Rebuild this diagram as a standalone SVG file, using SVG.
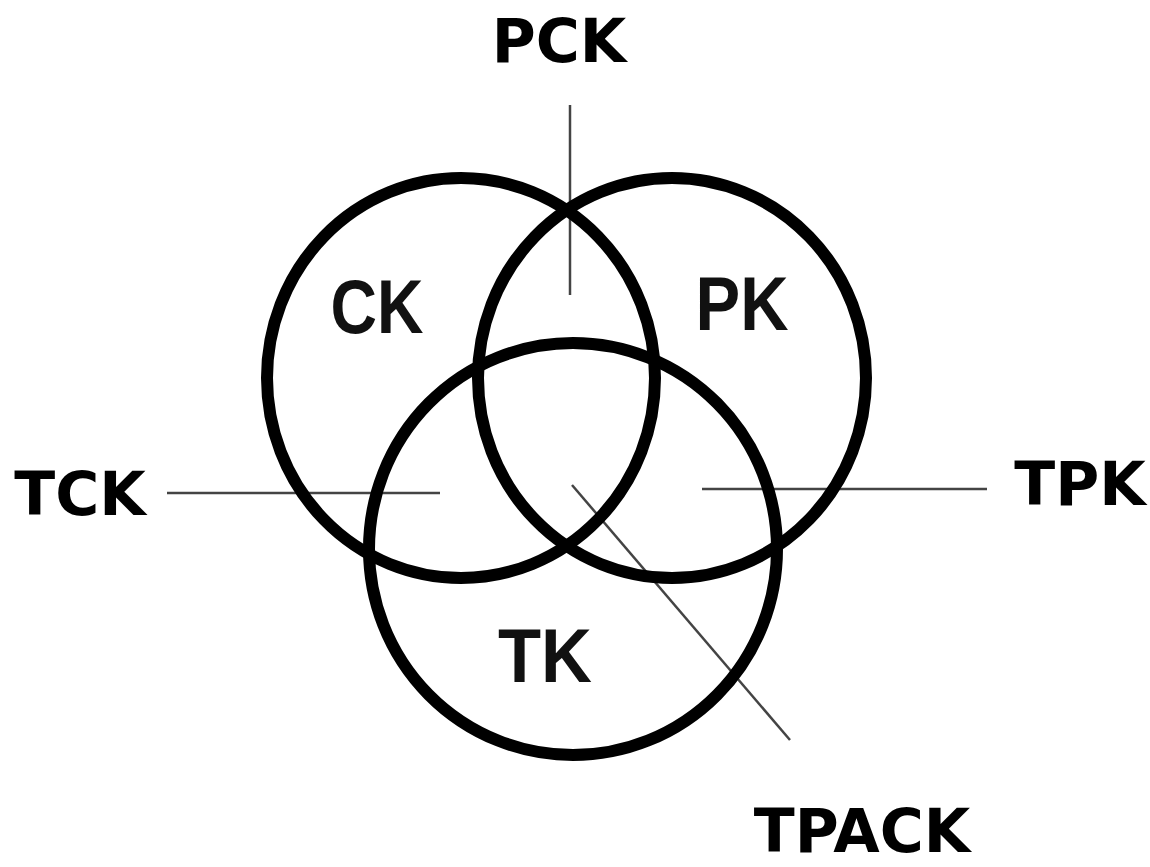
<svg xmlns="http://www.w3.org/2000/svg" width="1150" height="867" viewBox="0 0 1150 867">
<style>
.c{fill:none;stroke:#000;stroke-width:12}
.l{stroke:#444;stroke-width:2.5;fill:none}
.o{font-family:"DejaVu Sans",Verdana,sans-serif;font-weight:bold;font-size:60px;fill:#000}
.i{font-family:"Liberation Sans",Arial,sans-serif;font-weight:bold;font-size:76px;fill:#111}
</style>
<rect width="1150" height="867" fill="#fff"/>
<g id="connectors">
<line class="l" x1="570" y1="105" x2="570" y2="295"/>
<line class="l" x1="167" y1="493" x2="440" y2="493"/>
<line class="l" x1="702" y1="489" x2="987" y2="489"/>
<line class="l" x1="572" y1="485" x2="790" y2="740"/>
</g>
<g id="CK"><ellipse class="c" cx="461" cy="378" rx="194" ry="200"/><text class="i" x="377" y="333" text-anchor="middle" textLength="93" lengthAdjust="spacingAndGlyphs">CK</text></g>
<g id="PK"><ellipse class="c" cx="672" cy="378" rx="194" ry="200"/><text class="i" x="742" y="330" text-anchor="middle" textLength="93" lengthAdjust="spacingAndGlyphs">PK</text></g>
<g id="TK"><ellipse class="c" cx="573" cy="549" rx="204" ry="206"/><text class="i" x="545" y="682" text-anchor="middle" textLength="94" lengthAdjust="spacingAndGlyphs">TK</text></g>
<g id="PCK"><text class="o" x="559" y="62" text-anchor="middle">PCK</text></g>
<g id="TCK"><text class="o" x="80" y="515" text-anchor="middle">TCK</text></g>
<g id="TPK"><text class="o" x="1080" y="505" text-anchor="middle">TPK</text></g>
<g id="TPACK"><text class="o" x="862" y="852" text-anchor="middle">TPACK</text></g>
</svg>
